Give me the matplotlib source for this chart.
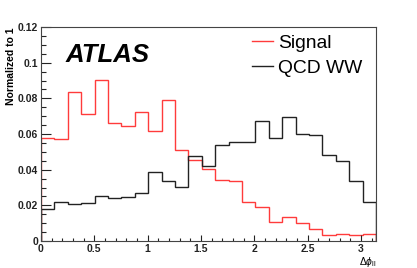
import numpy as np
import matplotlib
matplotlib.use("Agg")
import matplotlib.pyplot as plt
from matplotlib.ticker import MultipleLocator, FormatStrFormatter

plt.rcParams['font.family'] = ['Liberation Sans', 'DejaVu Sans']
plt.rcParams['mathtext.fontset'] = 'custom'
plt.rcParams['mathtext.rm'] = 'Liberation Sans'
plt.rcParams['mathtext.it'] = 'Liberation Sans:italic'

# 25 bins over [0, pi]
n_bins = 25
edges = np.linspace(0, np.pi, n_bins + 1)

signal = [0.0576, 0.0572, 0.0834, 0.0712, 0.0903, 0.0660, 0.0645, 0.0722,
          0.0619, 0.0789, 0.0511, 0.0455, 0.0405, 0.0344, 0.0335, 0.0220,
          0.0193, 0.0107, 0.0135, 0.0099, 0.0065, 0.0036, 0.0041, 0.0034,
          0.0037]
qcd_ww = [0.0181, 0.0219, 0.0206, 0.0215, 0.0251, 0.0241, 0.0245, 0.0267,
          0.0385, 0.0338, 0.0301, 0.0477, 0.0420, 0.0538, 0.0553, 0.0553,
          0.0675, 0.0580, 0.0694, 0.0602, 0.0597, 0.0483, 0.0451, 0.0338,
          0.0221]

fig = plt.figure(figsize=(4.17, 2.68), dpi=100)
ax = fig.add_axes([0.0983, 0.1007, 0.8034, 0.7985])

ax.stairs(signal, edges, color='#ff3b3b', lw=1.0, label='Signal')
ax.stairs(qcd_ww, edges, color='#222222', lw=1.0, label='QCD WW')

ax.set_xlim(0, np.pi)
ax.set_ylim(0, 0.12)

ax.xaxis.set_major_locator(MultipleLocator(0.5))
ax.xaxis.set_minor_locator(MultipleLocator(0.1))
ax.yaxis.set_major_locator(MultipleLocator(0.02))
ax.yaxis.set_minor_locator(MultipleLocator(0.005))
ax.xaxis.set_major_formatter(FormatStrFormatter('%g'))
ax.yaxis.set_major_formatter(FormatStrFormatter('%g'))

ax.tick_params(axis='both', which='both', direction='in', top=False, right=False,
               labelsize=7.5, width=0.8, colors='#222222')
ax.tick_params(axis='y', which='major', length=7.2, pad=2)
ax.tick_params(axis='y', which='minor', length=3.6)
ax.tick_params(axis='x', which='major', length=4.6, pad=2)
ax.tick_params(axis='x', which='minor', length=2.3)
for lab in ax.get_xticklabels() + ax.get_yticklabels():
    lab.set_fontweight('bold')
for sp in ax.spines.values():
    sp.set_linewidth(0.8)
    sp.set_color('#444444')

ax.set_ylabel('Normalized to 1', fontsize=7.5, fontweight='bold', loc='top', labelpad=1)
ax.text(1.0, -0.065, r'$\Delta\phi_{\mathrm{ll}}$', transform=ax.transAxes,
        ha='right', va='top', fontsize=7.5)

ax.text(0.072, 0.835, 'ATLAS', transform=ax.transAxes, fontsize=18.5,
        fontweight='bold', fontstyle='italic')

ax.legend(loc='upper left', bbox_to_anchor=(0.625, 0.975), frameon=False,
          fontsize=13.9, handlelength=1.05, handletextpad=0.3, labelspacing=0.4,
          borderpad=0.1, borderaxespad=0)

fig.savefig('out.png', dpi=100)
